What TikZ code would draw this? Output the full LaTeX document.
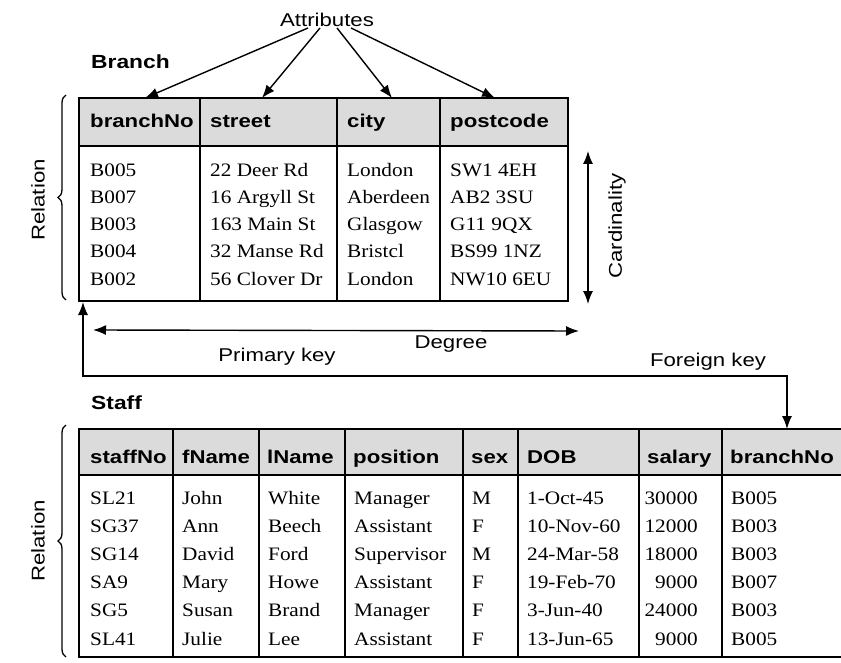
\documentclass[tikz,border=0pt]{standalone}
\usepackage{fontspec}
\setmainfont{Liberation Serif}[FakeStretch=1.12]
\setsansfont{Liberation Sans}[FakeStretch=1.2]
\usetikzlibrary{arrows.meta,decorations.pathreplacing}

\begin{document}
\begin{tikzpicture}[x=1pt,y=-1pt]
  % styles
  \tikzstyle{grid} = [line width=1.7pt]
  \tikzstyle{field} = [anchor=base west, inner sep=0pt, font=\sffamily\bfseries\fontsize{18.5}{20}\selectfont]
  \tikzstyle{entry} = [anchor=base west, inner sep=0pt, font=\fontsize{19}{22}\selectfont]
  \tikzstyle{annot} = [inner sep=1pt, font=\sffamily\fontsize{18.5}{20}\selectfont]
  \tikzstyle{title} = [anchor=west, inner sep=0pt, font=\sffamily\bfseries\fontsize{19}{20}\selectfont]
  \tikzstyle{pointer} = [line width=1.4pt, -{Latex[length=13pt,width=10pt]}]
  \tikzstyle{both} = [line width=1.4pt, {Latex[length=13pt,width=10pt]}-{Latex[length=13pt,width=10pt]}]
  \tikzstyle{relbrace} = [line width=1.3pt, decorate, decoration={brace, amplitude=8pt}]
  \colorlet{headgray}{black!14}

  \useasboundingbox[fill=white] (0,0) rectangle (841,663);

  % branch table
  \fill[headgray] (79,98) rectangle (568,146);
  \draw[grid] (79,98) rectangle (568,301);
  \draw[grid] (79,146) -- (568,146);
  \foreach \x in {200,337,440}
    \draw[grid] (\x,98) -- (\x,301);

  \node[field] (bNo) at (90,128) {branchNo};
  \node[field] (bStreet) at (210,128) {street};
  \node[field] (bCity) at (347,128) {city};
  \node[field] (bPost) at (450,128) {postcode};

  \foreach \no/\street/\city/\post [count=\i] in {B005/22 Deer Rd/London/SW1 4EH,
      B007/16 Argyll St/Aberdeen/AB2 3SU, B003/163 Main St/Glasgow/G11 9QX,
      B004/32 Manse Rd/Bristcl/BS99 1NZ, B002/56 Clover Dr/London/NW10 6EU} {
    \node[entry] (bno\i) at (90,150+27*\i) {\no};
    \node[entry] (bstreet\i) at (210,150+27*\i) {\street};
    \node[entry] (bcity\i) at (347,150+27*\i) {\city};
    \node[entry] (bpost\i) at (450,150+27*\i) {\post};
  }

  % attributes
  \node[annot] (attr) at (327,20) {Attributes};
  \node[title] (branch) at (91,62) {Branch};
  \coordinate (tNo) at (145,98);
  \coordinate (tStreet) at (262,98);
  \coordinate (tCity) at (392,98);
  \coordinate (tPost) at (495,98);
  \draw[pointer] ([xshift=-19pt]attr.south) -- (tNo);
  \draw[pointer] ([xshift=-7pt]attr.south) -- (tStreet);
  \draw[pointer] ([xshift=10pt]attr.south) -- (tCity);
  \draw[pointer] ([xshift=24pt]attr.south) -- (tPost);

  % relation braces
  \draw[relbrace] (66,300) -- (66,95);
  \node[annot, rotate=90] (relB) at (38,200) {Relation};
  \draw[relbrace] (66,657) -- (66,425);
  \node[annot, rotate=90] (relS) at (38,541) {Relation};

  % cardinality
  \coordinate (cTop) at (588,151);
  \coordinate (cBot) at (588,304);
  \draw[both] (cTop) -- (cBot);
  \node[annot, rotate=90] (card) at (617,226) {Cardinality};

  % degree
  \coordinate (dLeft) at (93,330);
  \coordinate (dRight) at (579,331);
  \draw[both] (dLeft) -- (dRight);
  \node[annot] (degree) at (451,344) {Degree};

  % primary key / foreign key
  \coordinate (pk) at (83,302);
  \coordinate (fk) at (787,429);
  \draw[both] (pk) |- (787,376) -- (fk);
  \node[annot] (pkey) at (277,357) {Primary key};
  \node[annot] (fkey) at (708,362) {Foreign key};

  % staff table
  \node[title] (staff) at (91,403) {Staff};
  \fill[headgray] (79,429) rectangle (841,475);
  \draw[grid] (841,429) -- (79,429) -- (79,657) -- (841,657);
  \draw[grid] (79,475) -- (841,475);
  \foreach \x in {173,259,345,463,518,639,722}
    \draw[grid] (\x,429) -- (\x,657);

  \node[field] (sNo) at (90,463) {staffNo};
  \node[field] (sFName) at (182,463) {fName};
  \node[field] (sLName) at (267,463) {lName};
  \node[field] (sPos) at (353,463) {position};
  \node[field] (sSex) at (471,463) {sex};
  \node[field] (sDob) at (527,463) {DOB};
  \node[field] (sSal) at (647,463) {salary};
  \node[field] (sBr) at (730,463) {branchNo};

  \foreach \no/\fn/\ln/\pos/\sx/\dob/\sal/\br [count=\i] in {
      SL21/John/White/Manager/M/1-Oct-45/30000/B005,
      SG37/Ann/Beech/Assistant/F/10-Nov-60/12000/B003,
      SG14/David/Ford/Supervisor/M/24-Mar-58/18000/B003,
      SA9/Mary/Howe/Assistant/F/19-Feb-70/9000/B007,
      SG5/Susan/Brand/Manager/F/3-Jun-40/24000/B003,
      SL41/Julie/Lee/Assistant/F/13-Jun-65/9000/B005} {
    \node[entry] (sno\i) at (90,475.8+28.2*\i) {\no};
    \node[entry] (sfn\i) at (182,475.8+28.2*\i) {\fn};
    \node[entry] (sln\i) at (268,475.8+28.2*\i) {\ln};
    \node[entry] (spos\i) at (354,475.8+28.2*\i) {\pos};
    \node[entry] (ssex\i) at (472,475.8+28.2*\i) {\sx};
    \node[entry] (sdob\i) at (527,475.8+28.2*\i) {\dob};
    \node[entry, anchor=base east] (ssal\i) at (698,475.8+28.2*\i) {\sal};
    \node[entry] (sbr\i) at (731,475.8+28.2*\i) {\br};
  }

\end{tikzpicture}
\end{document}
